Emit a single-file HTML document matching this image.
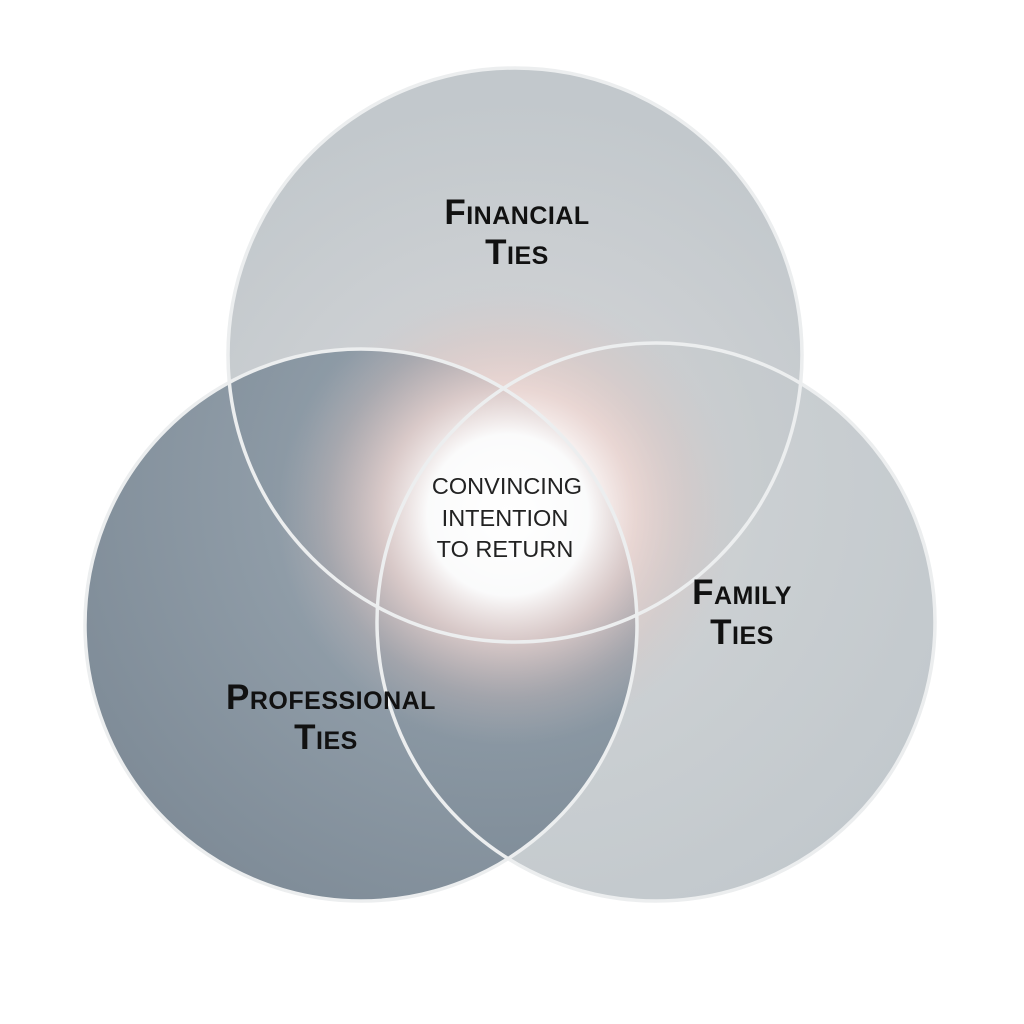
<!DOCTYPE html>
<html><head><meta charset="utf-8"><style>
html,body{margin:0;padding:0;background:#fff;}
svg{display:block}
.t{font-family:"Liberation Sans",sans-serif;font-weight:bold;fill:#111;font-variant:small-caps;letter-spacing:0.5px}
.c{font-family:"Liberation Sans",sans-serif;fill:#222;font-size:23.5px}
</style></head><body>
<svg width="1024" height="1024" viewBox="0 0 1024 1024">
<defs>
<radialGradient id="gTop" cx="0.5" cy="0.75" r="0.7">
<stop offset="0" stop-color="#e4d6d4"/><stop offset="0.5" stop-color="#cdd0d3"/><stop offset="1" stop-color="#c2c8cc"/>
</radialGradient>
<radialGradient id="gLeft" cx="0.75" cy="0.25" r="0.9">
<stop offset="0" stop-color="#aeb2b8"/><stop offset="0.4" stop-color="#8896a2"/><stop offset="1" stop-color="#72808d"/>
</radialGradient>
<radialGradient id="gRight" cx="0.25" cy="0.25" r="0.9">
<stop offset="0" stop-color="#d8d4d4"/><stop offset="0.5" stop-color="#c6cbce"/><stop offset="1" stop-color="#bcc3c8"/>
</radialGradient>
<radialGradient id="glow" cx="0.5" cy="0.5" r="0.5">
<stop offset="0" stop-color="#ffffff" stop-opacity="1"/>
<stop offset="0.35" stop-color="#ffffff" stop-opacity="0.95"/>
<stop offset="0.55" stop-color="#f3d9d4" stop-opacity="0.7"/>
<stop offset="0.8" stop-color="#e0c2bd" stop-opacity="0.25"/>
<stop offset="1" stop-color="#d0c0c0" stop-opacity="0"/>
</radialGradient>
</defs>
<rect width="1024" height="1024" fill="#fff"/>
<circle cx="515" cy="355" r="287" fill="url(#gTop)"/>
<circle cx="656" cy="622" r="279" fill="url(#gRight)" fill-opacity="0.92"/>
<circle cx="361" cy="625" r="276" fill="url(#gLeft)" fill-opacity="0.92"/>
<circle cx="508" cy="515" r="230" fill="url(#glow)"/>
<g fill="none" stroke="#eceeef" stroke-width="3.5">
<circle cx="515" cy="355" r="287"/>
<circle cx="656" cy="622" r="279"/>
<circle cx="361" cy="625" r="276"/>
</g>
<text class="t" x="517" y="224" text-anchor="middle" font-size="35">Financial</text>
<text class="t" x="517" y="264" text-anchor="middle" font-size="35">Ties</text>
<text class="t" x="742" y="604" text-anchor="middle" font-size="35">Family</text>
<text class="t" x="742" y="644" text-anchor="middle" font-size="35">Ties</text>
<text class="t" x="331" y="709" text-anchor="middle" font-size="35">Professional</text>
<text class="t" x="326" y="749" text-anchor="middle" font-size="35">Ties</text>
<text class="c" x="507" y="494" text-anchor="middle">CONVINCING</text>
<text class="c" x="505" y="526" text-anchor="middle">INTENTION</text>
<text class="c" x="505" y="557" text-anchor="middle">TO RETURN</text>
</svg>
</body></html>
